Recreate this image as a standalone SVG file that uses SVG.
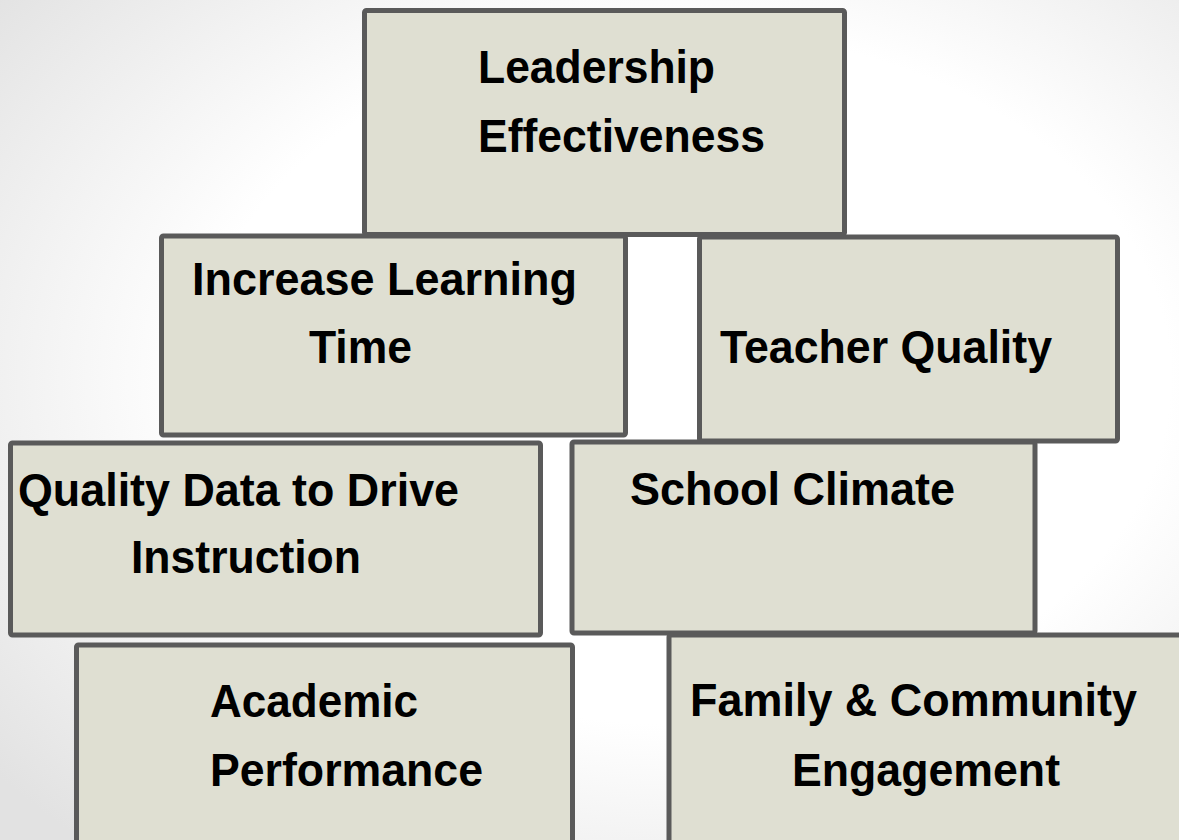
<svg xmlns="http://www.w3.org/2000/svg" width="1179" height="840" viewBox="0 0 1179 840">
<defs>
<radialGradient id="bg" cx="0.58" cy="0.45" r="0.75">
<stop offset="0.55" stop-color="#ffffff"/>
<stop offset="1" stop-color="#e2e2e2"/>
</radialGradient>
<style>
.box{fill:#dfdfd2;stroke:#5a5a5a;stroke-width:5}
.t{font-family:"Liberation Sans",Arial,sans-serif;font-weight:bold;font-size:46px;fill:#000}
</style>
</defs>
<rect x="0" y="0" width="1179" height="840" fill="url(#bg)"/>
<g id="leadership">
<rect class="box" x="364.5" y="10.5" width="480" height="224" rx="2"/>
<text class="t" x="478" y="83" textLength="237" lengthAdjust="spacingAndGlyphs">Leadership</text>
<text class="t" x="478" y="152" textLength="287" lengthAdjust="spacingAndGlyphs">Effectiveness</text>
</g>
<g id="learning-time">
<rect class="box" x="161.5" y="236" width="464" height="199" rx="2"/>
<text class="t" x="192" y="295" textLength="385" lengthAdjust="spacingAndGlyphs">Increase Learning</text>
<text class="t" x="309" y="363" textLength="103" lengthAdjust="spacingAndGlyphs">Time</text>
</g>
<g id="teacher-quality">
<rect class="box" x="699.5" y="237" width="418" height="204" rx="2"/>
<text class="t" x="720" y="363" textLength="332" lengthAdjust="spacingAndGlyphs">Teacher Quality</text>
</g>
<g id="quality-data">
<rect class="box" x="10.5" y="443" width="530" height="192" rx="2"/>
<text class="t" x="18" y="506" textLength="441" lengthAdjust="spacingAndGlyphs">Quality Data to Drive</text>
<text class="t" x="131" y="573" textLength="230" lengthAdjust="spacingAndGlyphs">Instruction</text>
</g>
<g id="school-climate">
<rect class="box" x="572" y="442" width="463" height="191" rx="2"/>
<text class="t" x="630" y="505" textLength="325" lengthAdjust="spacingAndGlyphs">School Climate</text>
</g>
<g id="academic-performance">
<rect class="box" x="76.5" y="645" width="496" height="210" rx="2"/>
<text class="t" x="210" y="717" textLength="208" lengthAdjust="spacingAndGlyphs">Academic</text>
<text class="t" x="210" y="786" textLength="273" lengthAdjust="spacingAndGlyphs">Performance</text>
</g>
<g id="family-community">
<rect class="box" x="669" y="635" width="530" height="220" rx="2"/>
<text class="t" x="690" y="716" textLength="447" lengthAdjust="spacingAndGlyphs">Family &amp; Community</text>
<text class="t" x="792" y="786" textLength="268" lengthAdjust="spacingAndGlyphs">Engagement</text>
</g>
<g id="connectors"></g>
</svg>
